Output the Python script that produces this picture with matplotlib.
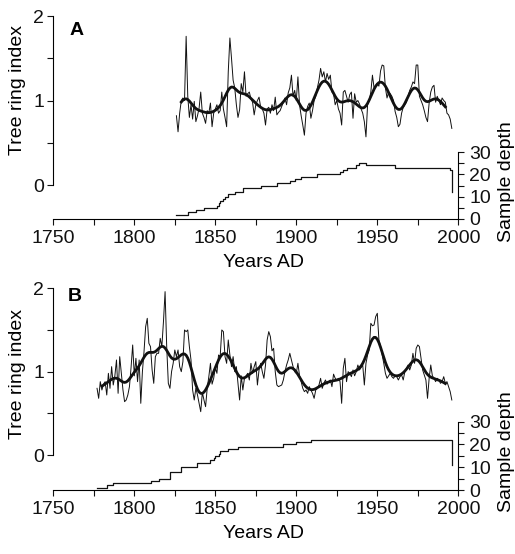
import matplotlib
matplotlib.use('Agg')
import matplotlib.pyplot as plt
from matplotlib.ticker import MultipleLocator, FixedLocator
import numpy as np

plt.rcParams['font.family'] = ['Liberation Sans', 'DejaVu Sans']
plt.rcParams['font.size'] = 14

# panel A: tree ring index, one value per year from 1826
start_a = 1826
index_a = [
    0.82, 0.63, 0.85, 1.00, 1.03, 1.00, 1.76, 1.05, 0.80, 0.95,  # 1826
    0.78, 0.99, 0.75, 0.82, 0.91, 1.10, 0.85, 0.80, 0.73, 0.88,  # 1836
    0.85, 0.97, 0.69, 0.85, 0.90, 0.95, 0.85, 0.88, 1.10, 0.90,  # 1846
    0.80, 0.69, 1.34, 1.74, 1.50, 1.24, 1.15, 0.95, 0.80, 0.89,  # 1856
    1.20, 1.10, 1.34, 1.05, 1.08, 1.10, 1.02, 0.98, 0.83, 0.95,  # 1866
    1.00, 1.04, 0.92, 0.90, 0.85, 0.71, 0.90, 0.92, 0.85, 0.95,  # 1876
    0.88, 1.04, 0.83, 0.86, 0.88, 0.93, 0.98, 1.03, 0.95, 1.09,  # 1886
    1.15, 1.30, 1.05, 1.12, 1.00, 1.28, 0.95, 0.82, 0.71, 0.59,  # 1896
    0.85, 0.93, 0.97, 0.79, 0.88, 1.00, 1.05, 1.15, 1.24, 1.38,  # 1906
    1.28, 1.34, 1.22, 1.32, 1.25, 1.30, 1.10, 1.08, 0.95, 1.00,  # 1916
    0.90, 0.85, 0.71, 1.10, 1.12, 1.05, 0.98, 1.07, 1.10, 0.79,  # 1926
    1.08, 0.98, 1.00, 0.96, 0.90, 0.85, 0.75, 0.57, 0.95, 1.00,  # 1936
    1.10, 1.30, 1.15, 1.18, 1.20, 1.17, 1.35, 1.42, 1.41, 1.15,  # 1946
    1.03, 1.10, 1.08, 1.05, 1.00, 0.87, 0.80, 0.69, 0.72, 0.85,  # 1956
    0.92, 0.95, 0.98, 1.05, 1.12, 1.16, 1.22, 1.20, 1.42, 1.42,  # 1966
    1.05, 1.00, 0.95, 0.88, 0.80, 0.75, 0.97, 1.10, 1.16, 1.18,  # 1976
    0.98, 1.05, 1.00, 0.95, 1.03, 1.00, 0.98, 0.85, 0.83, 0.78,  # 1986
    0.67,                                                        # 1996
]

# panel B: tree ring index, one value per year from 1777
start_b = 1777
index_b = [
    0.80, 0.68, 0.88, 0.78, 0.85, 0.88, 0.72, 0.98, 0.80, 1.06,  # 1777
    0.84, 0.95, 1.14, 0.74, 1.18, 0.98, 0.78, 0.64, 0.66, 0.72,  # 1787
    0.82, 1.05, 1.32, 0.95, 1.16, 0.88, 1.14, 0.62, 1.00, 1.24,  # 1797
    1.54, 1.64, 1.34, 1.30, 1.02, 0.86, 1.18, 1.22, 1.22, 1.40,  # 1807
    1.30, 1.60, 1.96, 1.30, 0.86, 0.80, 1.00, 1.10, 1.26, 1.18,  # 1817
    1.26, 1.06, 1.00, 1.12, 1.50, 1.48, 1.50, 1.30, 1.14, 0.78,  # 1827
    0.66, 0.80, 0.72, 0.62, 0.52, 0.75, 0.66, 0.58, 0.80, 0.94,  # 1837
    1.10, 0.85, 0.92, 1.05, 0.98, 1.20, 1.18, 1.50, 1.48, 1.18,  # 1847
    1.10, 1.38, 1.20, 1.06, 1.18, 1.00, 1.06, 0.86, 0.66, 0.95,  # 1857
    0.78, 0.92, 0.95, 0.98, 0.90, 1.10, 0.98, 1.06, 1.12, 0.84,  # 1867
    1.02, 1.10, 1.00, 0.92, 1.08, 1.38, 1.48, 1.42, 1.25, 1.28,  # 1877
    1.00, 0.84, 0.82, 0.83, 0.84, 0.90, 1.00, 1.08, 1.14, 1.22,  # 1887
    1.14, 1.06, 1.00, 0.98, 1.10, 0.95, 0.88, 0.80, 0.76, 0.78,  # 1897
    0.74, 0.82, 0.78, 0.74, 0.68, 0.78, 0.80, 0.84, 0.92, 0.80,  # 1907
    0.86, 0.90, 0.85, 0.88, 0.90, 0.82, 0.97, 0.92, 0.90, 0.92,  # 1917
    0.88, 0.62, 1.04, 1.16, 0.88, 1.00, 0.98, 0.94, 1.02, 0.95,  # 1927
    1.00, 1.08, 1.02, 1.05, 1.08, 0.84, 1.10, 1.20, 1.26, 1.58,  # 1937
    1.55, 1.56, 1.66, 1.70, 1.38, 1.30, 1.20, 1.10, 0.98, 0.92,  # 1947
    0.95, 0.98, 0.94, 0.92, 0.95, 0.94, 0.90, 0.94, 0.96, 0.90,  # 1957
    1.00, 1.04, 1.08, 1.02, 1.08, 1.22, 1.10, 1.28, 1.32, 1.30,  # 1967
    1.16, 1.02, 0.96, 0.90, 0.68, 0.92, 1.08, 0.95, 0.92, 0.88,  # 1977
    0.92, 0.90, 0.86, 0.88, 0.94, 0.86, 0.88, 0.82, 0.76, 0.66,  # 1987
]

# sample depth: year where the count changes, and the new count
depth_years_a = [1826, 1833, 1838, 1843, 1851, 1852, 1853, 1855, 1856, 1858,
                 1862, 1867, 1878, 1888, 1896, 1899, 1903, 1913, 1927, 1929,
                 1931, 1937, 1939, 1943, 1961, 1995, 1996]
depth_a = [2, 3, 4, 5, 6, 7, 8, 9, 10, 11,
           12, 14, 15, 16, 17, 18, 19, 20, 21, 22,
           23, 24, 25, 24, 23, 22, 12]

depth_years_b = [1777, 1783, 1787, 1810, 1815, 1822, 1829, 1839, 1847, 1849,
                 1850, 1852, 1853, 1858, 1864, 1892, 1900, 1909, 1996]
depth_b = [1, 2, 3, 4, 5, 8, 10, 12, 13, 14,
           15, 16, 17, 18, 19, 20, 21, 22, 11]


def smooth(values, sigma=3.5):
    v = np.asarray(values, dtype=float)
    t = np.arange(len(v))
    out = np.empty(len(v))
    for i in range(len(v)):
        w = np.exp(-0.5 * ((t - i) / sigma) ** 2)
        out[i] = np.sum(w * v) / np.sum(w)
    return out


fig = plt.figure(figsize=(5.15, 5.54), dpi=100)
ink = '#111111'


def panel(rect, letter, start, index, dyears, depth, ylo, dtop,
          ylab_y, rlab_y, letter_xy):
    ax = fig.add_axes(rect)
    years = np.arange(start, start + len(index))
    ax.plot(years, index, color=ink, lw=0.7, clip_on=False)
    sm = smooth(index)
    ax.plot(years[3:-4], sm[3:-4], color=ink, lw=2.0, clip_on=False)

    ax.set_xlim(1750, 2000)
    ax.set_ylim(ylo, 2)
    ax.set_xticks(np.arange(1750, 2001, 50))
    ax.xaxis.set_minor_locator(MultipleLocator(25))
    ax.set_yticks([0, 1, 2])
    ax.yaxis.set_minor_locator(FixedLocator([0.5, 1.5]))
    ax.tick_params(axis='both', which='both', direction='out', length=4,
                   width=0.8, colors=ink)
    ax.tick_params(axis='x', pad=4)
    ax.tick_params(axis='y', pad=2.5)
    for s in ['top', 'right']:
        ax.spines[s].set_visible(False)
    ax.spines['left'].set_bounds(0, 2)
    ax.spines['left'].set_linewidth(0.8)
    ax.spines['bottom'].set_linewidth(0.8)

    ax.set_xlabel('Years AD', va='center')
    ax.xaxis.set_label_coords(0.518, -0.215)
    ax.set_ylabel('Tree ring index', va='center', ha='center')
    ax.yaxis.set_label_coords(-0.0896, ylab_y)
    ax.text(letter_xy[0], letter_xy[1], letter, transform=ax.transAxes,
            fontweight='bold', fontsize=14, ha='left', va='center')

    ax2 = ax.twinx()
    ax2.step(dyears, depth, where='post', color=ink, lw=0.9)
    ax2.set_ylim(0, dtop)
    ax2.set_yticks([0, 10, 20, 30])
    ax2.yaxis.set_minor_locator(FixedLocator([5, 15, 25]))
    ax2.tick_params(axis='y', which='both', direction='out', length=4,
                    width=0.8, colors=ink, pad=4)
    for s in ['top', 'left', 'bottom']:
        ax2.spines[s].set_visible(False)
    ax2.spines['right'].set_bounds(0, 30)
    ax2.spines['right'].set_linewidth(0.8)
    ax2.set_ylabel('Sample depth', va='center', ha='center')
    ax2.yaxis.set_label_coords(1.118, rlab_y)


panel([0.1035, 0.6047, 0.7864, 0.3664], 'A', start_a, index_a,
      depth_years_a, depth_a, -0.402, 90.9, 0.635, 0.182, (0.041, 0.931))
panel([0.1035, 0.1155, 0.7864, 0.3641], 'B', start_b, index_b,
      depth_years_b, depth_b, -0.42, 88.5, 0.575, 0.188, (0.036, 0.957))

fig.savefig('out.png', dpi=100)
